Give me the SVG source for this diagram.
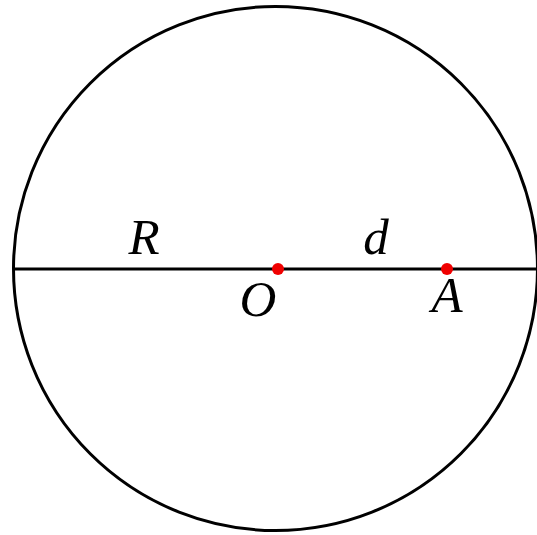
<svg xmlns="http://www.w3.org/2000/svg" width="537" height="535" viewBox="0 0 537 535">
<style>
.s{fill:none;stroke:#000;stroke-width:3}
.p{fill:#f00000}
.t{font-family:"Liberation Serif","DejaVu Serif",serif;font-style:italic;font-size:51px;fill:#000;text-anchor:middle}
</style>
<rect width="537" height="535" fill="#fff"/>
<g id="circle"><circle class="s" cx="275.5" cy="268.5" r="262"/></g>
<g id="connectors"><line class="s" x1="13" y1="269" x2="537" y2="269"/></g>
<g id="O"><circle class="p" cx="278" cy="269" r="6"/><text class="t" x="258" y="316">O</text></g>
<g id="A"><circle class="p" cx="447" cy="269" r="6"/><text class="t" x="447" y="312">A</text></g>
<g id="R"><text class="t" x="144" y="254">R</text></g>
<g id="d"><text class="t" x="376" y="254">d</text></g>
</svg>
